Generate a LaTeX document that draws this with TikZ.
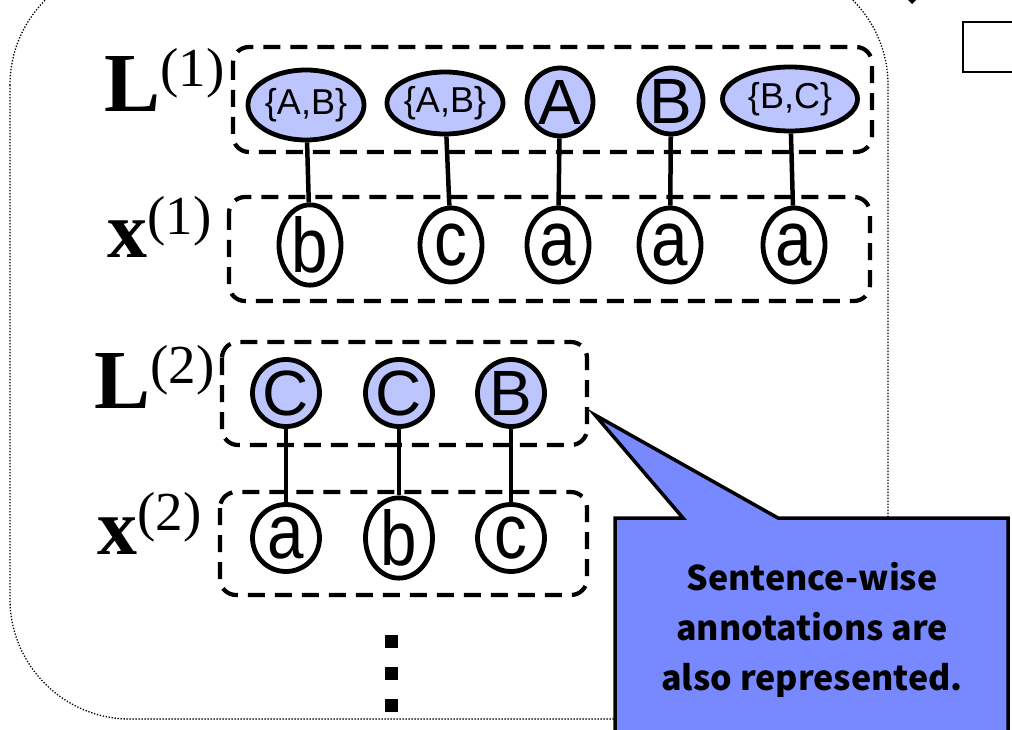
\documentclass[tikz,border=0pt]{standalone}
\usepackage{fontspec}
\setmainfont{Liberation Serif}
\newfontfamily\arialf{Liberation Sans}
\newfontfamily\gothf{Noto Sans CJK JP}
\usetikzlibrary{shapes.geometric}
\definecolor{lblue}{RGB}{189,197,255}
\definecolor{cblue}{RGB}{120,137,255}
\tikzset{
  grp/.style={draw, line width=4.2pt, dash pattern=on 17pt off 10pt, rounded corners=16pt},
  lnode/.style={ellipse, draw, line width=4.8pt, fill=lblue, inner sep=0pt, font=\arialf},
  wnode/.style={ellipse, draw, line width=4.8pt, fill=white, inner sep=0pt, font=\arialf},
  conn/.style={line width=4.5pt},
  lab/.style={anchor=base west, inner sep=0pt},
  bigl/.style={font=\arialf\fontsize{64}{64}\selectfont},
  setl/.style={font=\arialf\fontsize{36}{36}\selectfont},
}
\newcommand{\lowl}[1]{\scalebox{0.95}[1.12]{\fontsize{69}{69}\selectfont #1}}
\newcommand{\boldL}[1]{\fontsize{84}{84}\selectfont\bfseries L\raisebox{25pt}{\fontsize{55}{55}\selectfont\mdseries (#1)}}
\newcommand{\boldX}[1]{\fontsize{80}{80}\selectfont\bfseries x\raisebox{24pt}{\fontsize{55}{55}\selectfont\mdseries (#1)}}
\begin{document}
\begin{tikzpicture}[x=1pt,y=-1pt]
\useasboundingbox (0,0) rectangle (1012,730);
\clip (0,0) rectangle (1012,730);
% outer dotted rounded frame
\draw[line width=1.3pt, dash pattern=on 1.3pt off 1.7pt, rounded corners=120pt] (10,-35) rectangle (888,719);
% partial items at top right
\fill (907,-1) -- (917,-1) -- (912,4) -- cycle;
\draw[line width=2pt] (1030,22) -- (963,22) -- (963,72) -- (1030,72);
% group boxes
\draw[grp] (233,47) rectangle (872,152);
\draw[grp] (229,197) rectangle (870,301);
\draw[grp] (222,342) rectangle (587,445);
\draw[grp] (220,492) rectangle (587,595);
% labels
\node[lab] (labL1) at (104,112) {\boldL{1}};
\node[lab] (labx1) at (107,258) {\boldX{1}};
\node[lab] (labL2) at (94,408) {\boldL{2}};
\node[lab] (labx2) at (97,554) {\boldX{2}};
% row L1
\node[lnode, setl, minimum width=104pt, minimum height=70pt] (l11) at (306,105) {\{A,B\}};
\node[lnode, setl, minimum width=114pt, minimum height=62pt] (l12) at (445,103) {\{A,B\}};
\node[lnode, bigl, minimum width=66pt, minimum height=68pt] (l13) at (560,102) {A};
\node[lnode, bigl, minimum width=64pt, minimum height=66pt] (l14) at (671,101) {B};
\node[lnode, setl, minimum width=135pt, minimum height=64pt] (l15) at (790,99) {\{B,C\}};
% row x1
\node[wnode, minimum width=62pt, minimum height=74pt] (x11) at (310,245) {\lowl{b}};
\node[wnode, minimum width=62pt, minimum height=74pt] (x12) at (451,245) {\lowl{c}};
\node[wnode, minimum width=62pt, minimum height=74pt] (x13) at (558,245) {\lowl{a}};
\node[wnode, minimum width=62pt, minimum height=74pt] (x14) at (670,245) {\lowl{a}};
\node[wnode, minimum width=62pt, minimum height=74pt] (x15) at (794,245) {\lowl{a}};
% row L2
\node[lnode, bigl, minimum width=67pt, minimum height=67pt] (l21) at (286,393) {C};
\node[lnode, bigl, minimum width=67pt, minimum height=67pt] (l22) at (399,393) {C};
\node[lnode, bigl, minimum width=67pt, minimum height=67pt] (l23) at (511,393) {B};
% row x2
\node[wnode, minimum width=67pt, minimum height=67pt] (x21) at (286,538) {\lowl{a}};
\node[wnode, minimum width=67pt, minimum height=67pt] (x22) at (399,538) {\lowl{b}};
\node[wnode, minimum width=67pt, minimum height=67pt] (x23) at (511,538) {\lowl{c}};
% connectors
\draw[conn] (l11) -- (x11);
\draw[conn] (l12) -- (x12);
\draw[conn] (l13) -- (x13);
\draw[conn] (l14) -- (x14);
\draw[conn] (l15) -- (x15);
\draw[conn] (l21) -- (x21);
\draw[conn] (l22) -- (x22);
\draw[conn] (l23) -- (x23);
% vertical dots
\fill (385,635) rectangle (398,648);
\fill (385,667) rectangle (398,680);
\fill (385,699) rectangle (398,712);
% callout
\coordinate (tip) at (595,415);
\draw[line width=3.5pt, fill=cblue, line join=miter] (615,518) -- (683,518) -- (tip) -- (778,518) -- (1008,518) -- (1008,745) -- (615,745) -- cycle;
\node[align=center, inner sep=0pt, font={\gothf\bfseries\fontsize{34}{50}\selectfont}] (ctext) at (812,630) {Sentence-wise\\annotations are\\also represented.};
\end{tikzpicture}
\end{document}
